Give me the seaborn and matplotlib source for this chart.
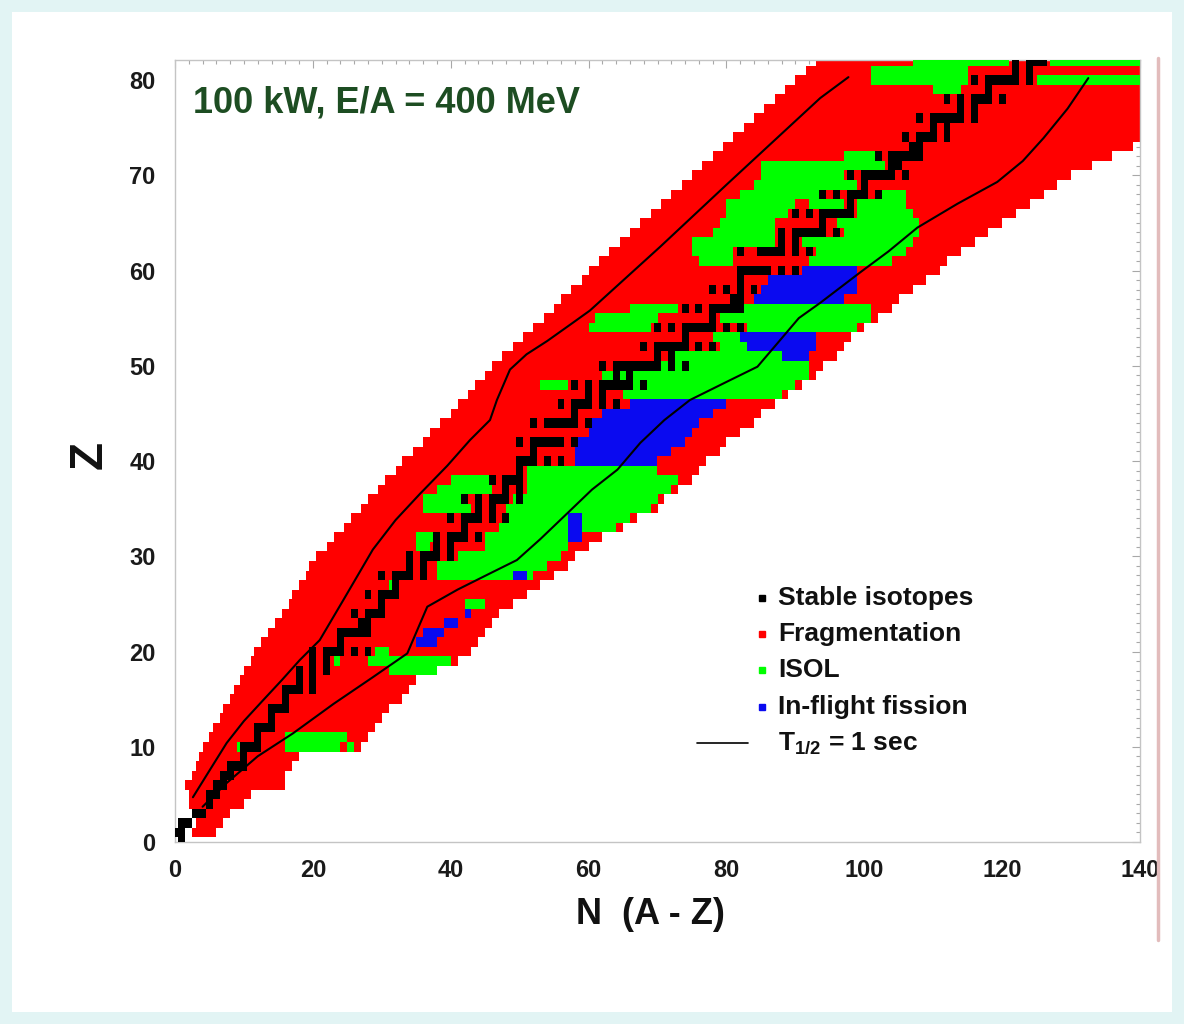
import matplotlib
matplotlib.use("Agg")
import matplotlib.pyplot as plt
import seaborn as sns
import pandas as pd
import numpy as np
from matplotlib.patches import Rectangle
from matplotlib.lines import Line2D
from matplotlib.ticker import MultipleLocator

# ---------------- data ----------------
# Fragmentation envelope: one row per Z (1..82), N from lo to hi
frag_z = list(range(1, 83))
frag_lo = [2.5, 3, 2.5, 2, 2, 1.5, 2.5, 3, 3.5, 4,
           5, 5.5, 6.5, 7, 8, 8.5, 9.5, 10, 11, 11.5,
           12.5, 13.5, 14.5, 15.5, 16.5, 17, 18, 19, 19.5, 20.5,
           22, 23, 24.5, 25.5, 27, 28, 29.5, 30.5, 32, 33,
           34.5, 36, 37, 38.5, 40, 41, 42.5, 43.5, 45, 46,
           47.5, 49, 50.5, 52, 53.5, 55, 56, 57.5, 59, 60,
           61.5, 63, 64.5, 66, 67.5, 69, 70.5, 72, 73.5, 75,
           76.5, 78, 79.5, 81, 82.5, 84, 85.5, 87, 88.5, 90,
           91.5, 93]
frag_hi = [6, 7, 8, 10, 11, 16, 16, 17, 18, 27,
           28, 29, 30, 31, 33, 34, 35, 38, 41, 43,
           44, 45, 46, 47, 49, 51, 53, 55, 57, 58,
           60, 62, 65, 67, 70, 71, 73, 75, 76, 77,
           79, 80, 82, 84, 85, 87, 89, 91, 93, 94,
           96, 97, 98, 100, 102, 104, 105, 107, 109, 111,
           112, 114, 116, 118, 120, 122, 124, 126, 128, 130,
           133, 136, 139, 140, 140, 140, 140, 140, 140, 140,
           140, 140]

# ISOL segments (Z, N from, N to)
isol_z = [82, 82, 81, 80, 80, 79,
          72, 71, 70, 69, 68, 68, 67, 67, 67, 66, 66, 65, 65, 64, 64,
          63, 63, 62, 62, 61, 61,
          56, 56, 55, 55, 54, 54, 53, 52, 51, 50, 49, 48, 48, 47,
          39, 38, 38, 37, 37, 36, 36, 35, 35, 34, 33, 32, 32, 31, 31,
          30, 29, 28, 27, 25, 20, 19, 19, 18, 11, 10, 10, 10]
isol_lo = [107, 127, 101, 101, 125, 110,
           97, 85, 85, 84, 82, 102, 80, 92, 99, 80, 99, 79, 96, 78, 97,
           75, 91, 75, 93, 76, 92,
           66, 80, 61, 79, 60, 83, 78, 79, 72, 66, 62, 53, 64, 65,
           51, 40, 51, 38, 51, 36, 49, 36, 48, 48, 47, 45, 35, 45, 35,
           41, 38, 38, 31, 42, 29, 23, 28, 31, 16, 9, 16, 25]
isol_hi = [121, 140, 115, 115, 140, 114,
           102, 103, 97, 99, 94, 106, 90, 97, 106, 89, 107, 87, 108, 87, 108,
           87, 107, 81, 106, 81, 104,
           73, 101, 70, 101, 69, 99, 82, 83, 88, 92, 92, 57, 90, 88,
           70, 46, 73, 46, 72, 42, 70, 43, 69, 66, 64, 58, 38, 57, 37,
           56, 54, 52, 32, 45, 31, 24, 40, 38, 25, 10, 24, 26]

# In-flight fission segments (Z, N from, N to)
fiss_z = [60, 59, 58, 57, 53, 52, 51, 46, 45, 44, 43, 42, 41, 40,
          34, 33, 32, 28, 24, 23, 22, 21]
fiss_lo = [91, 86, 85, 84, 82, 83, 88, 66, 62, 60, 60, 58, 58, 58,
           57, 57, 57, 49, 42, 39, 36, 35]
fiss_hi = [99, 99, 99, 97, 93, 93, 92, 80, 78, 76, 75, 74, 72, 70,
           59, 59, 59, 51, 43, 41, 39, 38]

# Stable isotopes: neutron numbers for each Z = 0..82
stable_by_z = [
    [1], [0, 1], [1, 2], [3, 4], [5], [5, 6], [6, 7], [7, 8], [8, 9, 10], [10],
    [10, 11, 12], [12], [12, 13, 14], [14], [14, 15, 16], [16], [16, 17, 18, 20],
    [18, 20], [18, 20, 22], [20, 22], [20, 22, 23, 24, 26, 28], [24],
    [24, 25, 26, 27, 28], [27, 28], [26, 28, 29, 30], [30], [28, 30, 31, 32], [32],
    [30, 32, 33, 34, 36], [34, 36], [34, 36, 37, 38, 40], [38, 40],
    [38, 40, 41, 42, 44], [42], [40, 42, 43, 44, 46, 48], [44, 46],
    [42, 44, 46, 47, 48, 50], [48, 50], [46, 48, 49, 50], [50],
    [50, 51, 52, 54, 56], [52], [50, 52, 53, 54, 55, 56, 58], [],
    [52, 54, 55, 56, 57, 58, 60], [58], [56, 58, 59, 60, 62, 64], [60, 62],
    [58, 60, 62, 63, 64, 65, 66, 68], [64, 66],
    [62, 64, 65, 66, 67, 68, 69, 70, 72, 74], [70, 72],
    [68, 70, 71, 72, 73, 74, 76, 78], [74], [70, 72, 74, 75, 76, 77, 78, 80, 82],
    [78], [74, 76, 78, 79, 80, 81, 82], [81, 82], [78, 80, 82, 84], [82],
    [82, 83, 84, 85, 86, 88, 90], [], [82, 85, 86, 87, 88, 90, 92], [88, 90],
    [88, 90, 91, 92, 93, 94, 96], [94], [90, 92, 94, 95, 96, 97, 98], [98],
    [94, 96, 98, 99, 100, 102], [100], [98, 100, 101, 102, 103, 104, 106],
    [104, 105], [102, 104, 105, 106, 107, 108], [107, 108],
    [106, 108, 109, 110, 112], [110, 112], [108, 110, 111, 112, 113, 114, 116],
    [114, 116], [112, 114, 116, 117, 118, 120], [118],
    [116, 118, 119, 120, 121, 122, 124], [122, 124], [122, 124, 125, 126],
]

# T1/2 = 1 s contours
t_left_n = [2.6, 5.0, 7.5, 10.0, 12.8, 15.5, 18.1, 21.0, 24.5, 28.7, 32.0, 35.6,
            39.5, 42.8, 45.7, 46.7, 48.6, 51.0, 54.0, 57.5, 60.2, 70.4, 80.0,
            93.6, 97.7]
t_left_z = [4.7, 7.5, 10.4, 12.7, 14.9, 17.0, 19.1, 21.2, 25.5, 30.7, 33.8, 36.6,
            39.5, 42.2, 44.3, 46.4, 49.6, 51.2, 52.6, 54.4, 55.8, 62.5, 69.0,
            78.1, 80.3]
t_right_n = [4.0, 7.5, 12.0, 17.1, 23.0, 28.7, 33.7, 35.0, 36.6, 41.0, 45.7, 49.6,
             53.0, 56.9, 60.5, 64.2, 67.5, 71.0, 74.7, 80.0, 84.5, 87.8, 90.5,
             93.6, 99.4, 103.5, 107.7, 113.5, 119.3, 123.0, 126.0, 129.5, 132.5]
t_right_z = [3.7, 6.2, 9.0, 11.4, 14.5, 17.3, 19.8, 22.0, 24.7, 26.5, 28.2, 29.6,
             31.8, 34.5, 37.0, 39.1, 41.9, 44.3, 46.4, 48.3, 49.9, 52.7, 55.0,
             56.6, 59.8, 62.0, 64.5, 67.0, 69.3, 71.5, 73.9, 77.0, 80.2]

x_ticks = [0, 20, 40, 60, 80, 100, 120, 140]
y_ticks = [0, 10, 20, 30, 40, 50, 60, 70, 80]
legend_labels = ["Stable isotopes", "Fragmentation", "ISOL", "In-flight fission",
                 "T$_{\\mathrm{1/2}}$ = 1 sec"]
title_text = "100 kW, E/A = 400 MeV"
x_label = "N  (A - Z)"
y_label = "Z"

# ---------------- style ----------------
sns.set_theme(style="white")
plt.rcParams['font.family'] = ['Liberation Sans', 'DejaVu Sans']
plt.rcParams['mathtext.fontset'] = 'custom'
plt.rcParams['mathtext.rm'] = 'Liberation Sans:bold'
plt.rcParams['mathtext.it'] = 'Liberation Sans:bold'
plt.rcParams['mathtext.bf'] = 'Liberation Sans:bold'

C_RED = '#ff0000'
C_GREEN = '#00ff00'
C_BLUE = '#0a0af0'
W, H = 1184, 1024

fig = plt.figure(figsize=(W / 100, H / 100), dpi=100, facecolor='#e2f4f4')
fig.patches.append(Rectangle((12 / W, 12 / H), (1172 - 12) / W, (1012 - 12) / H,
                             transform=fig.transFigure, facecolor='white',
                             edgecolor='none', zorder=-5))
fig.add_artist(Line2D([1158 / W, 1158 / W], [1 - 58 / H, 1 - 940 / H],
                      color='#e2bcbc', lw=2.5, transform=fig.transFigure))

ax = fig.add_axes([175 / W, 1 - 842 / H, (1140 - 175) / W, (842 - 60) / H])
ax.set_facecolor('white')

frag = pd.DataFrame({'Z': frag_z, 'lo': frag_lo, 'hi': frag_hi})
isol = pd.DataFrame({'Z': isol_z, 'lo': isol_lo, 'hi': isol_hi})
fiss = pd.DataFrame({'Z': fiss_z, 'lo': fiss_lo, 'hi': fiss_hi})
stable = pd.DataFrame({'Z': [z for z, ns in enumerate(stable_by_z) for _ in ns],
                       'N': [n for ns in stable_by_z for n in ns]})

rowh = 1.0
ax.barh(frag['Z'], frag['hi'] - frag['lo'], left=frag['lo'], height=rowh,
        color=C_RED, linewidth=0, zorder=2)
ax.barh(isol['Z'], isol['hi'] - isol['lo'], left=isol['lo'], height=rowh,
        color=C_GREEN, linewidth=0, zorder=3)
ax.barh(fiss['Z'], fiss['hi'] - fiss['lo'], left=fiss['lo'], height=rowh,
        color=C_BLUE, linewidth=0, zorder=4)
ax.barh(stable['Z'], 1.0, left=stable['N'] - 0.5, height=rowh,
        color='black', linewidth=0, zorder=5)

left_df = pd.DataFrame({'N': t_left_n, 'Z': t_left_z})
right_df = pd.DataFrame({'N': t_right_n, 'Z': t_right_z})
sns.lineplot(data=left_df, x='N', y='Z', sort=False, estimator=None,
             color='black', lw=1.5, ax=ax, zorder=6)
sns.lineplot(data=right_df, x='N', y='Z', sort=False, estimator=None,
             color='black', lw=1.5, ax=ax, zorder=6)

ax.set_xlim(0, 140)
ax.set_ylim(0, 82.1)
ax.set_xticks(x_ticks)
ax.set_yticks(y_ticks)
ax.xaxis.set_minor_locator(MultipleLocator(2))
ax.yaxis.set_minor_locator(MultipleLocator(1))
ax.tick_params(which='both', direction='in', top=True, right=True,
               color='#a8a8a8', width=0.8)
ax.tick_params(which='major', length=6, labelsize=17, labelcolor='#1a1a1a')
ax.tick_params(which='minor', length=3)
ax.tick_params(axis='x', pad=12)
ax.tick_params(axis='y', pad=14)
for lab in ax.get_xticklabels() + ax.get_yticklabels():
    lab.set_fontweight('bold')
for sp in ax.spines.values():
    sp.set_color('#c4c4c4')
    sp.set_linewidth(1.0)
    sp.set_visible(True)

ax.set_xlabel(x_label, fontsize=26, fontweight='bold', color='#111111')
ax.set_ylabel(y_label, fontsize=33, fontweight='bold', color='#111111', rotation=90)
ax.xaxis.set_label_coords((650 - 175) / 965, (842 - 915) / 782)
ax.xaxis.label.set_va('center')
ax.yaxis.set_label_coords((90 - 175) / 965, (842 - 455) / 782)
ax.yaxis.label.set_va('center')
ax.yaxis.label.set_ha('center')

ax.text((193 - 175) / 965, (842 - 103) / 782, title_text, transform=ax.transAxes,
        ha='left', va='center', fontsize=26, fontweight='bold', color='#1d4d22',
        zorder=10)

# legend (drawn manually to mimic original layout)
leg_marker_x = (762 - 175) / 965
leg_text_x = (778 - 175) / 965
leg_line_x = [(697 - 175) / 965, (748 - 175) / 965]
leg_y = [(842 - y) / 782 for y in (598, 634, 670, 707, 743)]
leg_colors = ['black', C_RED, C_GREEN, C_BLUE]
for lab, col, yy in zip(legend_labels[:4], leg_colors, leg_y[:4]):
    ax.plot([leg_marker_x], [yy], marker='s', ms=5, color=col, ls='none',
            transform=ax.transAxes, zorder=10)
    ax.text(leg_text_x, yy, lab, transform=ax.transAxes, ha='left', va='center',
            fontsize=19, fontweight='bold', color='#111111', zorder=10)
ax.plot(leg_line_x, [leg_y[4]] * 2, color='black', lw=1.2,
        transform=ax.transAxes, zorder=10)
ax.text(leg_text_x, leg_y[4], legend_labels[4], transform=ax.transAxes,
        ha='left', va='center', fontsize=19, fontweight='bold', color='#111111',
        zorder=10)

fig.savefig('out.png', dpi=100, facecolor=fig.get_facecolor())
